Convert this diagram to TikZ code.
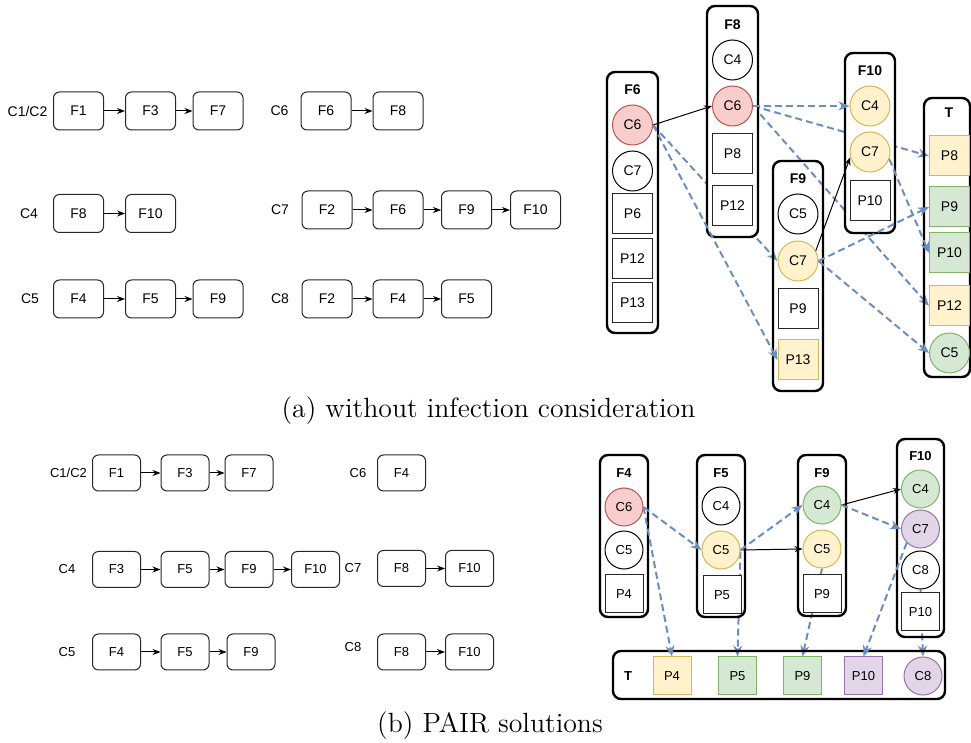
\documentclass[tikz,border=0pt]{standalone}
\usepackage{fontspec}
\newfontfamily\lblfont{Liberation Sans}
\usetikzlibrary{arrows.meta,positioning}

\definecolor{redf}{HTML}{F8CECC}
\definecolor{redd}{HTML}{B85450}
\definecolor{yelf}{HTML}{FFF2CC}
\definecolor{yeld}{HTML}{D6B656}
\definecolor{grnf}{HTML}{D5E8D4}
\definecolor{grnd}{HTML}{82B366}
\definecolor{purf}{HTML}{E1D5E7}
\definecolor{purd}{HTML}{9673A6}
\definecolor{edgeblue}{HTML}{6C8EBF}

\pgfdeclarelayer{back}
\pgfsetlayers{back,main}

\tikzset{
  lbl/.style={font=\lblfont\fontsize{7}{8}\selectfont},
  ttl/.style={font=\lblfont\bfseries\fontsize{7}{8}\selectfont},
  capt/.style={font=\fontsize{13.9}{16}\selectfont, anchor=base, inner sep=0pt},
  fbox/.style={lbl, draw=black!85, line width=0.5pt, rounded corners=3pt, minimum width=25pt, minimum height=19pt, inner sep=0pt},
  col/.style={draw, line width=1.2pt, rounded corners=4pt, inner sep=0pt},
  cnode/.style={lbl, circle, draw, line width=0.5pt, fill=white, minimum size=20pt, inner sep=0pt},
  pnode/.style={lbl, rectangle, draw=black!85, line width=0.5pt, fill=white, minimum size=20pt, inner sep=0pt},
  cred/.style={fill=redf, draw=redd},
  cyel/.style={fill=yelf, draw=yeld},
  cgrn/.style={fill=grnf, draw=grnd},
  cpur/.style={fill=purf, draw=purd},
  chain/.style={line width=0.5pt, -{Stealth[length=4pt,width=3pt]}},
  bdash/.style={edgeblue, line width=1pt, dash pattern=on 3.5pt off 2pt, -{Stealth[length=5.5pt,width=4.5pt]}}
}

\begin{document}
\begin{tikzpicture}[x=0.5pt,y=-0.5pt]
\useasboundingbox (0,0) rectangle (971,743);

\node[lbl] (a1l) at (27.5,111) {C1/C2};
\node[fbox] (a1x1) at (78.5,111) {F1};
\node[fbox] (a1x2) at (150.5,111) {F3};
\node[fbox] (a1x3) at (218,111) {F7};
\node[lbl] (a6l) at (279.5,111) {C6};
\node[fbox] (a6x1) at (326,111) {F6};
\node[fbox] (a6x2) at (398,111) {F8};
\node[lbl] (a4l) at (29,213.5) {C4};
\node[fbox] (a4x1) at (78.5,213.5) {F8};
\node[fbox] (a4x2) at (150.5,213.5) {F10};
\node[lbl] (a7l) at (280,210) {C7};
\node[fbox] (a7x1) at (327,210) {F2};
\node[fbox] (a7x2) at (398,210) {F6};
\node[fbox] (a7x3) at (466.5,210) {F9};
\node[fbox] (a7x4) at (535.5,210) {F10};
\node[lbl] (a5l) at (30,299) {C5};
\node[fbox] (a5x1) at (78.5,299) {F4};
\node[fbox] (a5x2) at (150.5,299) {F5};
\node[fbox] (a5x3) at (218,299) {F9};
\node[lbl] (a8l) at (280,299) {C8};
\node[fbox] (a8x1) at (327,299) {F2};
\node[fbox] (a8x2) at (398,299) {F4};
\node[fbox] (a8x3) at (466.5,299) {F5};

\node[col, minimum width=25.5pt, minimum height=130.5pt] (a6) at (632.5,202.5) {};
\node[col, fill=white, minimum width=25.5pt, minimum height=115.5pt] (a8) at (732.5,121.5) {};
\node[col, minimum width=25pt, minimum height=115pt] (a9) at (798,276) {};
\node[col, fill=white, minimum width=25pt, minimum height=90pt] (a10) at (870,143) {};
\node[col, minimum width=23pt, minimum height=139.5pt] (at) at (947,237.5) {};
\node[ttl] (a6t) at (632.5,90) {F6};
\node[ttl] (a8t) at (732.5,25) {F8};
\node[ttl] (a9t) at (798,179) {F9};
\node[ttl] (a10t) at (870,71) {F10};
\node[ttl] (att) at (949,113) {T};

\node[cnode, cred] (a6c6) at (632.5,125) {C6};
\node[cnode] (a6c7) at (632.5,171) {C7};
\node[pnode] (a6p6) at (632.5,214) {P6};
\node[pnode] (a6p12) at (632.5,259) {P12};
\node[pnode] (a6p13) at (632.5,303) {P13};
\node[cnode] (a8c4) at (732.5,60) {C4};
\node[cnode, cred] (a8c6) at (732.5,106) {C6};
\node[pnode] (a8p8) at (732.5,154) {P8};
\node[pnode] (a8p12) at (732.5,206) {P12};
\node[cnode] (a9c5) at (798,214) {C5};
\node[cnode, cyel] (a9c7) at (798,261) {C7};
\node[pnode] (a9p9) at (798,308.5) {P9};
\node[pnode, cyel] (a9p13) at (798,360) {P13};
\node[cnode, cyel] (a10c4) at (870,106) {C4};
\node[cnode, cyel] (a10c7) at (870,152) {C7};
\node[pnode] (a10p10) at (870,200.5) {P10};
\node[pnode, cyel] (atp8) at (949.5,156) {P8};
\node[pnode, cgrn] (atp9) at (949.5,207) {P9};
\node[pnode, cgrn] (atp10) at (949.5,253) {P10};
\node[pnode, cyel] (atp12) at (949.5,306) {P12};
\node[cnode, cgrn] (atc5) at (949.5,353) {C5};

\node[capt] (capa) at (488.5,418) {(a) without infection consideration};

\begin{scope}[lbl/.style={font=\lblfont\fontsize{6.5}{8}\selectfont},
  ttl/.style={font=\lblfont\bfseries\fontsize{6.5}{8}\selectfont},
  fbox/.append style={minimum width=24pt, minimum height=18pt},
  cnode/.append style={minimum size=19pt}, pnode/.append style={minimum size=19pt}]
\node[lbl] (b1l) at (68.5,473) {C1/C2};
\node[fbox] (b1x1) at (116.5,473) {F1};
\node[fbox] (b1x2) at (185,473) {F3};
\node[fbox] (b1x3) at (249,473) {F7};
\node[lbl] (b6l) at (358,473) {C6};
\node[fbox] (b6x1) at (401.5,473) {F4};
\node[lbl] (b4l) at (67,569.5) {C4};
\node[fbox] (b4x1) at (116.5,569.5) {F3};
\node[fbox] (b4x2) at (185,569.5) {F5};
\node[fbox] (b4x3) at (249,569.5) {F9};
\node[fbox] (b4x4) at (315.5,569.5) {F10};
\node[lbl] (b7l) at (353,568) {C7};
\node[fbox] (b7x1) at (401.5,568.5) {F8};
\node[fbox] (b7x2) at (469.5,568.5) {F10};
\node[lbl] (b5l) at (67,652) {C5};
\node[fbox] (b5x1) at (116.5,652) {F4};
\node[fbox] (b5x2) at (185,652) {F5};
\node[fbox] (b5x3) at (251,652) {F9};
\node[lbl] (b8l) at (353,647) {C8};
\node[fbox] (b8x1) at (401.5,652) {F8};
\node[fbox] (b8x2) at (469.5,652) {F10};

\node[col, minimum width=24pt, minimum height=81pt] (b4) at (624,536) {};
\node[col, minimum width=24pt, minimum height=81pt] (b5) at (721,536) {};
\node[col, minimum width=24pt, minimum height=80.5pt] (b9) at (822,535.5) {};
\node[col, minimum width=23.5pt, minimum height=99pt] (b10) at (920.5,538) {};
\node[col, minimum width=166pt, minimum height=24pt] (btr) at (779,675) {};
\node[ttl] (b4t) at (624,473) {F4};
\node[ttl] (b5t) at (721,473) {F5};
\node[ttl] (b9t) at (822,473) {F9};
\node[ttl] (b10t) at (920.5,456) {F10};
\node[ttl] (btt) at (628,676) {T};

\node[cnode, cred] (b4c6) at (624,507) {C6};
\node[cnode] (b4c5) at (624,550) {C5};
\node[pnode] (b4p4) at (624,594) {P4};
\node[cnode] (b5c4) at (721,506) {C4};
\node[cnode, cyel] (b5c5) at (721,550) {C5};
\node[pnode] (b5p5) at (722,595) {P5};
\node[cnode, cgrn] (b9c4) at (822,505) {C4};
\node[cnode, cyel] (b9c5) at (822,549) {C5};
\node[pnode] (b9p9) at (822,594) {P9};
\node[cnode, cgrn] (b10c4) at (920.5,489) {C4};
\node[cnode, cpur] (b10c7) at (920.5,529) {C7};
\node[cnode] (b10c8) at (920.5,570) {C8};
\node[pnode] (b10p10) at (920.5,612) {P10};
\node[pnode, cyel] (btp4) at (672,676) {P4};
\node[pnode, cgrn] (btp5) at (737.5,676) {P5};
\node[pnode, cgrn] (btp9) at (802.5,676) {P9};
\node[pnode, cpur] (btp10) at (863.5,676) {P10};
\node[cnode, cpur] (btc8) at (923,676) {C8};
\end{scope}

\node[capt] (capb) at (490,733) {(b) PAIR solutions};

\foreach \s/\t in {a1x1/a1x2,a1x2/a1x3,a6x1/a6x2,a4x1/a4x2,a7x1/a7x2,a7x2/a7x3,a7x3/a7x4,a5x1/a5x2,a5x2/a5x3,a8x1/a8x2,a8x2/a8x3,b1x1/b1x2,b1x2/b1x3,b4x1/b4x2,b4x2/b4x3,b4x3/b4x4,b7x1/b7x2,b5x1/b5x2,b5x2/b5x3,b8x1/b8x2}
  \draw[chain] (\s) -- (\t);

\begin{pgfonlayer}{back}
\draw[bdash] (a6c6.east) -- (a9c7.west);
\draw[bdash] (a8c6.east) -- (atp8.west);
\draw[bdash] (a8c6.east) -- (atp12.west);
\draw[bdash] (b5c5.-5) -- (btp5.north);
\draw[bdash] (b9c5.south) -- (btp9.north);
\draw[bdash] (b10c8.south) -- (btc8.north);
\end{pgfonlayer}

\draw[chain] (a6c6.east) -- (a8c6.west);
\draw[chain] (a9c7.30) -- (a10c7.195);
\draw[bdash] (a6c6.east) -- (a9p13.west);
\draw[bdash] (a8c6.east) -- (a10c4.west);
\draw[bdash] (a10c7.-20) -- (atp10.west);
\draw[bdash] (a9c7.east) -- (atp9.west);
\draw[bdash] (a9c7.east) -- (atc5.west);

\draw[chain] (b9c4.east) -- (b10c4.west);
\draw[chain] (b5c5.east) -- (b9c5.west);
\draw[bdash] (b4c6.east) -- (b5c5.west);
\draw[bdash] (b4c6.east) -- (btp4.north);
\draw[bdash] (b5c5.east) -- (b9c4.west);
\draw[bdash] (b9c4.east) -- (b10c7.west);
\draw[bdash] (b10c7.225) -- (btp10.north);
\end{tikzpicture}
\end{document}
